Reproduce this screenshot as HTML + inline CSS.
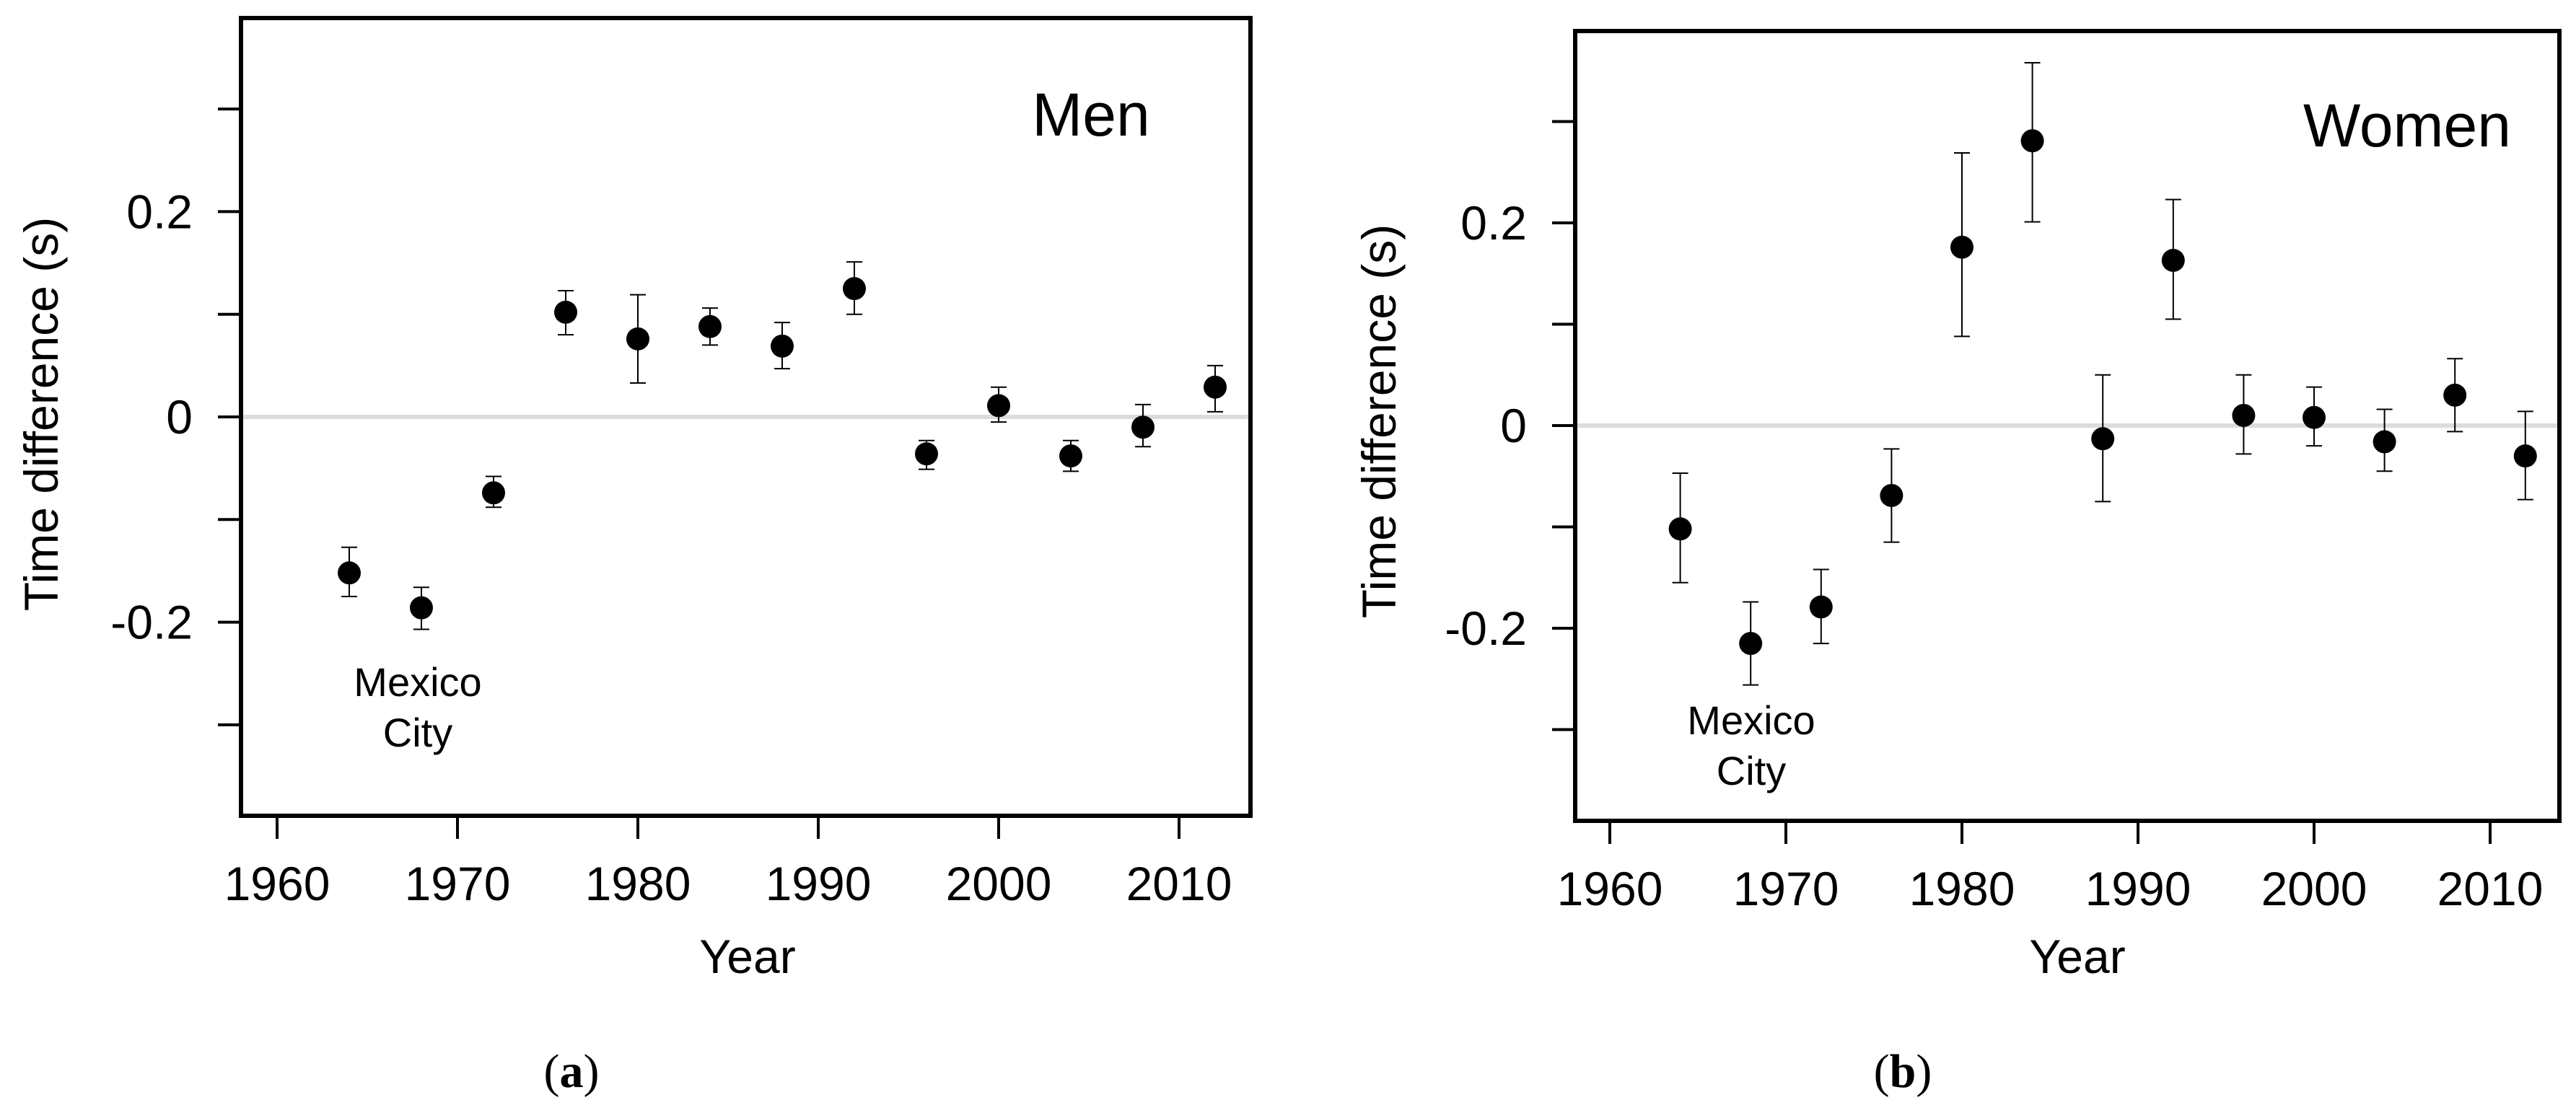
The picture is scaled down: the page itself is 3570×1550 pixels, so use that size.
<!DOCTYPE html>
<html><head><meta charset="utf-8"><style>
html,body{margin:0;padding:0;background:#fff;}
svg{display:block;font-family:"Liberation Sans",Arial,sans-serif;}
</style></head><body>
<svg id="fig" width="3570" height="1550" viewBox="0 0 3570 1550" xmlns="http://www.w3.org/2000/svg">
<rect width="3570" height="1550" fill="#fff"/>
<g id="pa"></g>
<g id="pb"></g>
</svg>
<script>
const years = [1964,1968,1972,1976,1980,1984,1988,1992,1996,2000,2004,2008,2012];
const menVals = [-0.152,-0.186,-0.074,0.102,0.076,0.088,0.069,0.125,-0.036,0.011,-0.038,-0.010,0.029];
const menHi   = [-0.127,-0.166,-0.058,0.123,0.119,0.106,0.092,0.151,-0.023,0.029,-0.023,0.012,0.050];
const menLo   = [-0.175,-0.207,-0.088,0.080,0.033,0.070,0.047,0.100,-0.051,-0.005,-0.053,-0.029,0.005];
const womenVals = [-0.102,-0.215,-0.179,-0.069,0.176,0.281,-0.013,0.163,0.010,0.008,-0.016,0.030,-0.030];
const womenHi   = [-0.047,-0.174,-0.142,-0.023,0.269,0.358,0.050,0.223,0.050,0.038,0.016,0.066,0.014];
const womenLo   = [-0.155,-0.256,-0.215,-0.115,0.088,0.201,-0.075,0.105,-0.028,-0.020,-0.045,-0.006,-0.073];
const xTicks = [1960,1970,1980,1990,2000,2010];
const yTicks = [0.3,0.2,0.1,0,-0.1,-0.2,-0.3];
const yTickLabels = {"0.2":"0.2","0":"0","-0.2":"-0.2"};

const NS="http://www.w3.org/2000/svg";
function mk(parent,tag,attrs,text){const e=document.createElementNS(NS,tag);for(const k in attrs)e.setAttribute(k,attrs[k]);if(text!==undefined)e.textContent=text;parent.appendChild(e);return e;}

function panel(g,cfg,vals,hi,lo){
  const X=v=>cfg.x0+(v-1960)*cfg.px;
  const Y=v=>cfg.y0-v*cfg.py;
  let z=mk(g,'line',{x1:cfg.L,x2:cfg.R,y1:Y(0),y2:Y(0),stroke:'#dcdcdc','stroke-width':6});
  
  
  let b=mk(g,'rect',{x:cfg.L,y:cfg.T,width:cfg.R-cfg.L,height:cfg.B-cfg.T,fill:'none',stroke:'#000','stroke-width':6});
  
  
  yTicks.forEach(t=>{
    let l=mk(g,'line',{x1:cfg.L-32,x2:cfg.L,y1:Y(t),y2:Y(t),stroke:'#000','stroke-width':4});
    
    
    const key=String(t);
    if(yTickLabels[key]!==undefined){
      let tx=mk(g,'text',{x:cfg.L-67,y:Y(t)+23,'text-anchor':'end','font-size':66},yTickLabels[key]);
      
      
    }
  });
  xTicks.forEach(t=>{
    let l=mk(g,'line',{x1:X(t),x2:X(t),y1:cfg.B,y2:cfg.B+32,stroke:'#000','stroke-width':4});
    
    
    let tx=mk(g,'text',{x:X(t),y:cfg.B+117,'text-anchor':'middle','font-size':66},String(t));
    
    
  });
  years.forEach((yr,i)=>{
    const cx=X(yr);
    let e=mk(g,'line',{x1:cx,x2:cx,y1:Y(hi[i]),y2:Y(lo[i]),stroke:'#000','stroke-width':2});
    
    
    [hi[i],lo[i]].forEach(v=>{
      let c=mk(g,'line',{x1:cx-11,x2:cx+11,y1:Y(v),y2:Y(v),stroke:'#000','stroke-width':2});
      
      
    });
    let p=mk(g,'circle',{cx:cx,cy:Y(vals[i]),r:16,fill:'#000'});
    
    
  });
  let t=mk(g,'text',{x:cfg.titleX,y:cfg.titleY,'text-anchor':'middle','font-size':84},cfg.title);
  
  
  let m1=mk(g,'text',{x:cfg.mcX,y:cfg.mcY,'text-anchor':'middle','font-size':56},'Mexico');
  
  
  let m2=mk(g,'text',{x:cfg.mcX,y:cfg.mcY+70,'text-anchor':'middle','font-size':56},'City');
  
  
  let yl=mk(g,'text',{x:0,y:0,'text-anchor':'middle','font-size':66,transform:`translate(${cfg.ylX},${cfg.ylY}) rotate(-90)`},'Time difference (s)');
  
  
  let xl=mk(g,'text',{x:cfg.xlX,y:1349,'text-anchor':'middle','font-size':66},'Year');
  
  
  let cap=mk(g,'text',{x:cfg.capX,y:1507,'text-anchor':'middle','font-size':66,'font-family':'"Liberation Serif",serif','font-weight':'bold'},'');
  
  
  mk(cap,'tspan',{'font-weight':'normal'},'(');
  mk(cap,'tspan',{},cfg.cap);
  mk(cap,'tspan',{'font-weight':'normal'},')');
}

panel(document.getElementById('pa'),{L:334,R:1733,T:25,B:1131,x0:384,px:25.0,y0:578,py:1423,
  title:'Men',titleX:1512,titleY:188,mcX:579,mcY:965,ylX:80,ylY:574,xlX:1036,capX:792,cap:'a'},menVals,menHi,menLo);
panel(document.getElementById('pb'),{L:2183,R:3547,T:43,B:1138,x0:2231,px:24.4,y0:590,py:1405,
  title:'Women',titleX:3336,titleY:203,mcX:2427,mcY:1018,ylX:1934,ylY:584,xlX:2879,capX:2637,cap:'b'},womenVals,womenHi,womenLo);
</script>
</body></html>
